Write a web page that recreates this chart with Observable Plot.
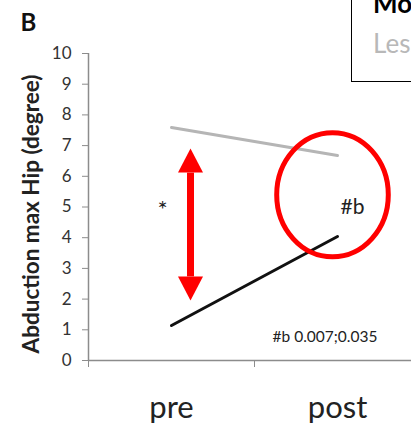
<!DOCTYPE html>
<html><head><meta charset="utf-8">
<script src="https://cdn.jsdelivr.net/npm/d3@7"></script>
<script src="https://cdn.jsdelivr.net/npm/@observablehq/plot@0.6"></script>
<style>
body{margin:0;background:#fff;font-family:Lato,sans-serif;}
#wrap{position:relative;width:411px;height:424px;overflow:hidden;background:#fff;}
#legend{position:absolute;left:351px;top:-14px;width:120px;height:96px;border:1.5px solid #000;box-sizing:border-box;background:#fff;font-family:Lato,sans-serif;font-size:26px;line-height:1;}
#legend .a{position:absolute;left:21px;top:3px;font-weight:bold;color:#000;}
#legend .b{position:absolute;left:21px;top:43px;color:#b8b8b8;}
</style></head><body><div id="wrap"></div>
<script>
const categories = ["pre", "post"];
const moderate = [1.14, 4.04];   // black line
const less = [7.59, 6.68];       // gray line
const seriesNames = ["Moderate", "Less"];
const seriesColors = ["#111111", "#b5b5b5"];
const yTicks = [0, 1, 2, 3, 4, 5, 6, 7, 8, 9, 10];
const panelLabel = "B";
const yLabel = "Abduction max Hip (degree)";
const starLabel = "*";
const hashLabel = "#b";
const pLabel = "#b 0.007;0.035";
const annotLevel = 5;        // level of * and #b
const pLevel = 0.75;         // level of p-value note
const arrowShaft = [6.12, 2.74]; // shaft ends of the red double arrow
const circleLevel = 5.4;     // centre of the red ellipse

const rows = categories.flatMap((c, i) => [
  {cat: c, value: moderate[i], series: seriesNames[0]},
  {cat: c, value: less[i], series: seriesNames[1]}
]);

const ellipse = {draw(ctx, size) {
  const r = Math.sqrt(size / Math.PI), rx = r * 0.9, ry = r, k = 0.5523;
  ctx.moveTo(rx, 0);
  ctx.bezierCurveTo(rx, ry * k, rx * k, ry, 0, ry);
  ctx.bezierCurveTo(-rx * k, ry, -rx, ry * k, -rx, 0);
  ctx.bezierCurveTo(-rx, -ry * k, -rx * k, -ry, 0, -ry);
  ctx.bezierCurveTo(rx * k, -ry, rx, -ry * k, rx, 0);
  ctx.closePath();
}};

function head(color) {
  const m = d3.create("svg:marker")
    .attr("viewBox", "0 -13 25 26")
    .attr("markerUnits", "userSpaceOnUse")
    .attr("markerWidth", 25).attr("markerHeight", 26)
    .attr("refX", 0).attr("refY", 0)
    .attr("orient", "auto-start-reverse")
    .attr("overflow", "visible");
  m.append("path").attr("d", "M0,-12.5L24,0L0,12.5Z").attr("fill", "#ff0000").attr("stroke", "none");
  return m.node();
}

const chart = Plot.plot({
  width: 411, height: 424,
  marginLeft: 88, marginRight: 0, marginTop: 53, marginBottom: 64,
  style: {fontFamily: "Lato, sans-serif", background: "#fff"},
  x: {type: "band", domain: categories, range: [88, 420], padding: 0},
  y: {domain: [0, 10]},
  color: {domain: seriesNames, range: seriesColors},
  marks: [
    Plot.ruleY([0], {stroke: "#8c8c8c", strokeWidth: 1.5}),
    Plot.ruleX([categories[0]], {x: d => d, dx: -83, y1: 0, y2: 10, stroke: "#8c8c8c", strokeWidth: 1.5}),
    Plot.axisY({ticks: yTicks, tickSize: 6, tickPadding: 11, fontSize: 17, color: "#333", stroke: "#8c8c8c", label: null}),
    Plot.axisX({tickSize: 0, tickPadding: 35, fontSize: 31, color: "#222", label: null}),
    Plot.axisX({tickSize: 7, dx: -83, tickFormat: () => "", stroke: "#8c8c8c", label: null}),
    Plot.line(rows, {x: "cat", y: "value", z: "series", stroke: "series", strokeWidth: 3}),
    Plot.link([{c: categories[0], y1: arrowShaft[0], y2: arrowShaft[1]}], {
      x1: "c", x2: "c", y1: "y1", y2: "y2", dx: 19, stroke: "#ff0000", strokeWidth: 7,
      strokeLinecap: "butt", markerStart: head, markerEnd: head
    }),
    Plot.dot([{c: categories[1], y: circleLevel}], {x: "c", y: "y", dx: -5, r: 62, symbol: ellipse, stroke: "#ff0000", strokeWidth: 5, fill: "none"}),
    Plot.text([{c: categories[0], y: annotLevel, t: starLabel}], {x: "c", y: "y", text: "t", dx: -9, dy: 3, fontSize: 24, fill: "#222"}),
    Plot.text([{c: categories[1], y: annotLevel, t: hashLabel}], {x: "c", y: "y", text: "t", dx: 15, fontSize: 21, fill: "#222"}),
    Plot.text([{c: categories[1], y: pLevel, t: pLabel}], {x: "c", y: "y", text: "t", dx: -65, textAnchor: "start", fontSize: 15.5, fill: "#222"}),
    Plot.text([panelLabel], {text: d => d, frameAnchor: "top-left", textAnchor: "middle", lineAnchor: "middle", dx: -60, dy: -30, fontSize: 24, fontWeight: "bold", fill: "#111"}),
    Plot.text([yLabel], {text: d => d, frameAnchor: "left", textAnchor: "middle", lineAnchor: "middle", rotate: -90, dx: -57, dy: 7, fontSize: 22.5, fontWeight: "bold", fill: "#222"})
  ]
});

const wrap = document.getElementById("wrap");
wrap.appendChild(chart);
const legend = document.createElement("div");
legend.id = "legend";
legend.innerHTML = `<span class="a">${seriesNames[0]}</span><span class="b">${seriesNames[1]}</span>`;
wrap.appendChild(legend);
</script>
</body></html>
